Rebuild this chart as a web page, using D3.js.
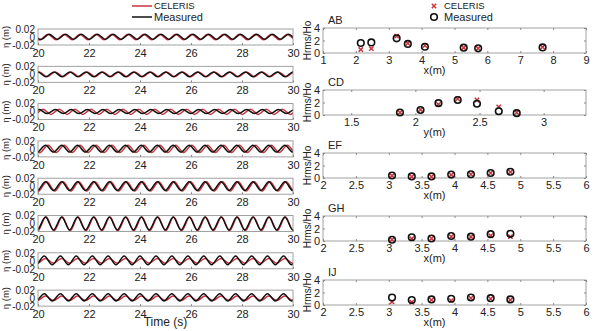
<!DOCTYPE html>
<html>
<head>
<meta charset="utf-8">
<script src="https://cdn.jsdelivr.net/npm/d3@7"></script>
<style>
  body { margin: 0; background: #fff; }
  text { font-family: "Liberation Sans", Arial, sans-serif; fill: #222; }
</style>
</head>
<body>
<div id="chart"></div>
<script>
const W = 598, H = 331;

// ---- time series (left column) ----
// alternating crest / trough times (s), crest on even index
const waveT = [19.38, 19.69, 20.00, 20.31, 20.63, 20.94, 21.25, 21.56, 21.88, 22.19,
  22.50, 22.81, 23.13, 23.44, 23.75, 24.06, 24.38, 24.69, 25.00, 25.31, 25.63, 25.94,
  26.25, 26.56, 26.88, 27.19, 27.50, 27.81, 28.13, 28.44, 28.75, 29.06, 29.38, 29.69,
  30.00, 30.31, 30.63];
const measCrest = [0.007, 0.006, 0.005, 0.009, 0.011, 0.016, 0.012, 0.011];
const measTrough = [-0.006, -0.006, -0.005, -0.008, -0.011, -0.016, -0.010, -0.007];
const celCrest = [0.007, 0.006, 0.006, 0.009, 0.011, 0.016, 0.006, 0.005];
const celTrough = [-0.007, -0.006, -0.007, -0.009, -0.012, -0.018, -0.006, -0.006];
const measShift = [0.45, 0.00, 0.05, 0.30, 0.30, 0.30, 0.25, 0.25];
const celShift = [0.40, 0.05, 0.20, 0.40, 0.35, 0.32, 0.30, 0.30];
const timeTicks = [20, 22, 24, 26, 28, 30];
const etaTicks = [-0.02, 0, 0.02];

// ---- wave height ratio (right column) ----
const panelNames = ["AB", "CD", "EF", "GH", "IJ"];
const panelXLabel = ["x(m)", "y(m)", "x(m)", "x(m)", "x(m)"];
const panelDomain = [[1, 9], [1.28, 3.33], [2, 6], [2, 6], [2, 6]];
const panelTicks = [
  [1, 2, 3, 4, 5, 6, 7, 8, 9],
  [1.5, 2, 2.5, 3],
  [2, 2.5, 3, 3.5, 4, 4.5, 5, 5.5, 6],
  [2, 2.5, 3, 3.5, 4, 4.5, 5, 5.5, 6],
  [2, 2.5, 3, 3.5, 4, 4.5, 5, 5.5, 6]
];
const gaugeX = [
  [2.15, 2.47, 3.24, 3.58, 4.1, 5.28, 5.72, 7.68],
  [1.88, 2.04, 2.18, 2.33, 2.48, 2.65, 2.79],
  [3.05, 3.35, 3.65, 3.95, 4.25, 4.55, 4.85],
  [3.05, 3.35, 3.65, 3.95, 4.25, 4.55, 4.85],
  [3.05, 3.35, 3.65, 3.95, 4.25, 4.55, 4.85]
];
const measuredH = [
  [1.6, 1.7, 2.35, 1.45, 1.0, 0.85, 0.75, 0.9],
  [0.4, 0.8, 1.9, 2.4, 1.8, 0.6, 0.3],
  [0.4, 0.25, 0.25, 0.55, 0.6, 0.8, 1.0],
  [0.2, 0.6, 0.4, 0.8, 0.7, 1.1, 1.15],
  [1.2, 0.8, 0.9, 1.0, 1.2, 1.1, 0.9]
];
const celerisH = [
  [0.55, 0.7, 2.7, 1.55, 1.2, 0.85, 0.75, 0.95],
  [0.4, 0.85, 1.7, 2.6, 2.4, 1.3, 0.4],
  [0.35, 0.2, 0.2, 0.5, 0.6, 0.8, 0.95],
  [0.2, 0.35, 0.4, 0.7, 0.65, 0.85, 0.7],
  [0.5, 0.45, 0.8, 0.7, 1.1, 1.0, 0.8]
];
const hTicks = [0, 2, 4];

const red = "#c9343d";
const boxColor = "#8a8a8a";

const svg = d3.select("#chart").append("svg")
  .attr("width", W)
  .attr("height", H)
  .style("background", "#fff");

// ---------- left column ----------
const leftX0 = 38, leftX1 = 293, leftTop = 29, leftStep = 37.3, leftH = 16;

const tScale = d3.scaleLinear().domain([20, 30]).range([leftX0, leftX1]);

function waveSeries(crest, trough, shift) {
  return waveT.map((t, i) => ({ t: t + shift, v: i % 2 === 0 ? crest : trough }));
}

measCrest.forEach((_, k) => {
  const top = leftTop + k * leftStep;
  const y = d3.scaleLinear().domain([-0.02, 0.02]).range([top + leftH, top]);
  const g = svg.append("g").attr("class", "ts-panel");

  g.append("clipPath").attr("id", "clipL" + k)
    .append("rect")
    .attr("x", leftX0).attr("y", top)
    .attr("width", leftX1 - leftX0).attr("height", leftH);

  const line = d3.line()
    .x(d => tScale(d.t))
    .y(d => y(d.v))
    .curve(d3.curveNatural);

  const lines = g.append("g").attr("clip-path", `url(#clipL${k})`);
  lines.append("path")
    .datum(waveSeries(celCrest[k], celTrough[k], celShift[k]))
    .attr("d", line)
    .attr("fill", "none")
    .attr("stroke", red)
    .attr("stroke-width", 1.5);
  lines.append("path")
    .datum(waveSeries(measCrest[k], measTrough[k], measShift[k]))
    .attr("d", line)
    .attr("fill", "none")
    .attr("stroke", "#111")
    .attr("stroke-width", 1.5);

  g.append("rect")
    .attr("x", leftX0).attr("y", top)
    .attr("width", leftX1 - leftX0).attr("height", leftH)
    .attr("fill", "none")
    .attr("stroke", boxColor)
    .attr("stroke-width", 0.8);

  const xa = g.append("g")
    .attr("transform", `translate(0,${top + leftH})`)
    .call(d3.axisBottom(tScale).tickValues(timeTicks).tickSize(-2).tickPadding(4));
  xa.select(".domain").remove();
  xa.selectAll("line").attr("stroke", boxColor);
  xa.selectAll("text").style("font-size", "11px").attr("fill", "#222");

  const ya = g.append("g")
    .attr("transform", `translate(${leftX0},0)`)
    .call(d3.axisLeft(y).tickValues(etaTicks).tickSize(0).tickPadding(3)
      .tickFormat(d => d === 0 ? "0" : String(d)));
  ya.select(".domain").remove();
  ya.selectAll("text").style("font-size", "10px").attr("fill", "#222");

  g.append("text")
    .attr("transform", `translate(6,${top + leftH / 2}) rotate(-90)`)
    .attr("text-anchor", "middle")
    .attr("dy", "0.35em")
    .style("font-size", "9.5px")
    .text("η (m)");
});

svg.append("text")
  .attr("x", (leftX0 + leftX1) / 2)
  .attr("y", 326)
  .attr("text-anchor", "middle")
  .style("font-size", "12px")
  .text("Time (s)");

// left legend
const legL = svg.append("g").attr("transform", "translate(132,0)");
[["CELERIS", red, 6], ["Measured", "#111", 17]].forEach(([name, col, yy]) => {
  legL.append("line").attr("x1", 0).attr("x2", 20).attr("y1", yy).attr("y2", yy)
    .attr("stroke", col).attr("stroke-width", 1.5);
  legL.append("text").attr("x", 22).attr("y", yy).attr("dy", "0.35em")
    .style("font-size", name === "CELERIS" ? "9.5px" : "11px").text(name);
});

// ---------- right column ----------
const rightX0 = 323, rightX1 = 586, rightH = 25;
const rightTops = [28, 90, 153, 216, 280];

function drawCross(sel, cx, cy, s) {
  sel.append("path")
    .attr("d", `M${cx - s},${cy - s}L${cx + s},${cy + s}M${cx - s},${cy + s}L${cx + s},${cy - s}`)
    .attr("stroke", red)
    .attr("stroke-width", 1.5)
    .attr("fill", "none");
}

panelNames.forEach((name, k) => {
  const top = rightTops[k];
  const x = d3.scaleLinear().domain(panelDomain[k]).range([rightX0, rightX1]);
  const y = d3.scaleLinear().domain([0, 4]).range([top + rightH, top]);
  const g = svg.append("g").attr("class", "h-panel");

  g.append("rect")
    .attr("x", rightX0).attr("y", top)
    .attr("width", rightX1 - rightX0).attr("height", rightH)
    .attr("fill", "none")
    .attr("stroke", boxColor)
    .attr("stroke-width", 0.8);

  const xa = g.append("g")
    .attr("transform", `translate(0,${top + rightH})`)
    .call(d3.axisBottom(x).tickValues(panelTicks[k]).tickSize(-2).tickPadding(3)
      .tickFormat(d => String(d)));
  xa.select(".domain").remove();
  xa.selectAll("line").attr("stroke", boxColor);
  xa.selectAll("text").style("font-size", "11px").attr("fill", "#222");

  const xt = g.append("g")
    .attr("transform", `translate(0,${top})`)
    .call(d3.axisTop(x).tickValues(panelTicks[k]).tickSize(-2).tickFormat(""));
  xt.select(".domain").remove();
  xt.selectAll("line").attr("stroke", boxColor);

  const ya = g.append("g")
    .attr("transform", `translate(${rightX0},0)`)
    .call(d3.axisLeft(y).tickValues(hTicks).tickSize(-2).tickPadding(3)
      .tickFormat(d => String(d)));
  ya.select(".domain").remove();
  ya.selectAll("line").attr("stroke", boxColor);
  ya.selectAll("text").style("font-size", "11px").attr("fill", "#222");

  const yr = g.append("g")
    .attr("transform", `translate(${rightX1},0)`)
    .call(d3.axisRight(y).tickValues(hTicks).tickSize(-2).tickFormat(""));
  yr.select(".domain").remove();
  yr.selectAll("line").attr("stroke", boxColor);

  g.append("text")
    .attr("x", rightX0 + 5).attr("y", top - 4)
    .style("font-size", "11px")
    .text(name);

  g.append("text")
    .attr("x", (rightX0 + rightX1) / 2 - 20)
    .attr("y", top + rightH + 21)
    .attr("text-anchor", "middle")
    .style("font-size", "11px")
    .text(panelXLabel[k]);

  g.append("text")
    .attr("transform", `translate(307,${top + rightH / 2}) rotate(-90)`)
    .attr("text-anchor", "middle")
    .attr("dy", "0.35em")
    .style("font-size", "10px")
    .text("Hrms/Ho");

  const pts = g.append("g");
  gaugeX[k].forEach((gx, i) => drawCross(pts, x(gx), y(celerisH[k][i]), 2.2));
  pts.selectAll("circle")
    .data(gaugeX[k].map((gx, i) => ({ gx, h: measuredH[k][i] })))
    .enter().append("circle")
    .attr("cx", d => x(d.gx))
    .attr("cy", d => y(d.h))
    .attr("r", 3.3)
    .attr("fill", "none")
    .attr("stroke", "#111")
    .attr("stroke-width", 1.6);
});

// right legend
const legR = svg.append("g").attr("transform", "translate(434,0)");
drawCross(legR, 0, 6, 2.2);
legR.append("circle").attr("cx", 0).attr("cy", 17).attr("r", 3.3)
  .attr("fill", "none").attr("stroke", "#111").attr("stroke-width", 1.6);
legR.append("text").attr("x", 10).attr("y", 6).attr("dy", "0.35em")
  .style("font-size", "9.5px").text("CELERIS");
legR.append("text").attr("x", 10).attr("y", 17).attr("dy", "0.35em")
  .style("font-size", "11px").text("Measured");
</script>
</body>
</html>
